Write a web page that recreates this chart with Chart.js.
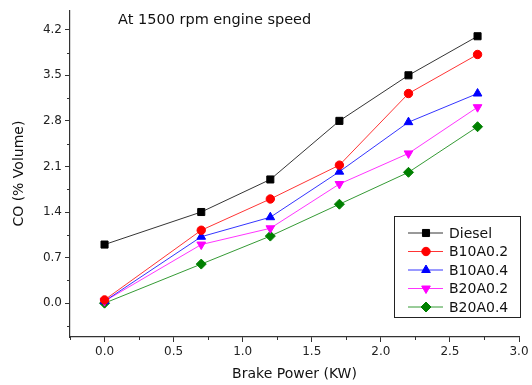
<!DOCTYPE html>
<html lang="en">
<head>
    <meta charset="UTF-8">
    <title>CO vs Brake Power</title>
    <script src="https://cdn.jsdelivr.net/npm/chart.js"></script>
    <style>
        html, body {
            margin: 0;
            padding: 0;
            background: white;
        }
        #wrap {
            width: 532px;
            height: 385px;
        }
    </style>
</head>
<body>
    <div id="wrap"><canvas id="coChart" width="532" height="385"></canvas></div>

    <script>
        // values
        const brakePower = [0, 0.7, 1.2, 1.7, 2.2, 2.7];
        const diesel = [0.9, 1.4, 1.9, 2.8, 3.5, 4.1];
        const b10a02 = [0.05, 1.12, 1.6, 2.12, 3.22, 3.82];
        const b10a04 = [0.03, 1.02, 1.32, 2.02, 2.78, 3.22];
        const b20a02 = [0.03, 0.9, 1.15, 1.83, 2.3, 3.01];
        const b20a04 = [0.0, 0.6, 1.03, 1.52, 2.01, 2.71];

        const xTicks = [0, 0.5, 1.0, 1.5, 2.0, 2.5, 3.0];
        const yTicks = [0, 0.7, 1.4, 2.1, 2.8, 3.5, 4.2];
        const xMinor = [-0.25, 0.25, 0.75, 1.25, 1.75, 2.25, 2.75];
        const yMinor = [-0.35, 0.35, 1.05, 1.75, 2.45, 3.15, 3.85];

        const FONT = "'DejaVu Sans', sans-serif";

        function series(label, values, color, style, rotation) {
            return {
                label: label,
                data: brakePower.map((x, i) => ({ x: x, y: values[i] })),
                showLine: true,
                borderColor: color,
                backgroundColor: color,
                borderWidth: 0.8,
                pointStyle: style,
                pointRotation: rotation || 0,
                pointRadius: style === 'circle' ? 4.2 : 5,
                pointBorderWidth: 1,
                pointBorderColor: color,
                pointBackgroundColor: color
            };
        }

        // title, minor ticks and the boxed legend
        const extras = {
            id: 'extras',
            afterDraw(chart) {
                const ctx = chart.ctx;
                const xs = chart.scales.x, ys = chart.scales.y;
                ctx.save();
                ctx.strokeStyle = '#333';
                ctx.lineWidth = 1;
                ctx.beginPath();
                xMinor.forEach(v => {
                    const px = Math.round(xs.getPixelForValue(v)) + 0.5;
                    ctx.moveTo(px, ys.bottom);
                    ctx.lineTo(px, ys.bottom + 3);
                });
                yMinor.forEach(v => {
                    const py = Math.round(ys.getPixelForValue(v)) + 0.5;
                    ctx.moveTo(xs.left, py);
                    ctx.lineTo(xs.left - 3, py);
                });
                ctx.stroke();

                ctx.fillStyle = '#111';
                ctx.font = '14.5px ' + FONT;
                ctx.textBaseline = 'middle';
                ctx.fillText('At 1500 rpm engine speed', 118, 20);

                // legend box
                ctx.strokeStyle = '#222';
                ctx.lineWidth = 1;
                ctx.strokeRect(394.5, 216.5, 126, 101);
                ctx.font = '14px ' + FONT;
                chart.data.datasets.forEach((ds, i) => {
                    const y = 233 + i * 18.5;
                    ctx.strokeStyle = ds.borderColor;
                    ctx.lineWidth = 0.8;
                    ctx.beginPath();
                    ctx.moveTo(408, y);
                    ctx.lineTo(443, y);
                    ctx.stroke();
                    ctx.fillStyle = ds.backgroundColor;
                    ctx.strokeStyle = ds.borderColor;
                    ctx.lineWidth = 1;
                    Chart.helpers.drawPoint(ctx, {
                        pointStyle: ds.pointStyle,
                        rotation: ds.pointRotation,
                        radius: ds.pointRadius,
                        borderWidth: 1
                    }, 426, y);
                    ctx.fillStyle = '#111';
                    ctx.fillText(ds.label, 449, y + 1);
                });
                ctx.restore();
            }
        };

        const chartCtx = document.getElementById('coChart').getContext('2d');
        const coChart = new Chart(chartCtx, {
            type: 'scatter',
            data: {
                datasets: [
                    series('Diesel', diesel, '#000000', 'rect'),
                    series('B10A0.2', b10a02, '#ff0000', 'circle'),
                    series('B10A0.4', b10a04, '#0000ff', 'triangle'),
                    series('B20A0.2', b20a02, '#ff00ff', 'triangle', 180),
                    series('B20A0.4', b20a04, '#008000', 'rectRot')
                ]
            },
            options: {
                responsive: false,
                animation: false,
                layout: {
                    padding: { left: 11, top: 7, right: 13, bottom: 2 }
                },
                plugins: {
                    legend: { display: false },
                    tooltip: { enabled: false }
                },
                scales: {
                    x: {
                        type: 'linear',
                        min: -0.25,
                        max: 3.0,
                        afterBuildTicks: s => { s.ticks = xTicks.map(v => ({ value: v })); },
                        afterFit: s => { s.height = 46; },
                        ticks: {
                            color: '#222',
                            padding: 3,
                            font: { family: FONT, size: 12 },
                            callback: v => Number(v).toFixed(1)
                        },
                        grid: {
                            drawOnChartArea: false,
                            color: '#333',
                            tickLength: 5
                        },
                        border: { display: true, color: '#333', width: 1.2 },
                        title: {
                            display: true,
                            text: 'Brake Power (KW)',
                            color: '#111',
                            padding: 0,
                            font: { family: FONT, size: 14 }
                        }
                    },
                    y: {
                        type: 'linear',
                        min: -0.52,
                        max: 4.5,
                        afterBuildTicks: s => { s.ticks = yTicks.map(v => ({ value: v })); },
                        afterFit: s => { s.width = 59; },
                        ticks: {
                            color: '#222',
                            padding: 3,
                            font: { family: FONT, size: 12 },
                            callback: v => Number(v).toFixed(1)
                        },
                        grid: {
                            drawOnChartArea: false,
                            color: '#333',
                            tickLength: 5
                        },
                        border: { display: true, color: '#333', width: 1.2 },
                        title: {
                            display: true,
                            text: 'CO (% Volume)',
                            color: '#111',
                            padding: 0,
                            font: { family: FONT, size: 14 }
                        }
                    }
                }
            },
            plugins: [extras]
        });
    </script>
</body>
</html>
